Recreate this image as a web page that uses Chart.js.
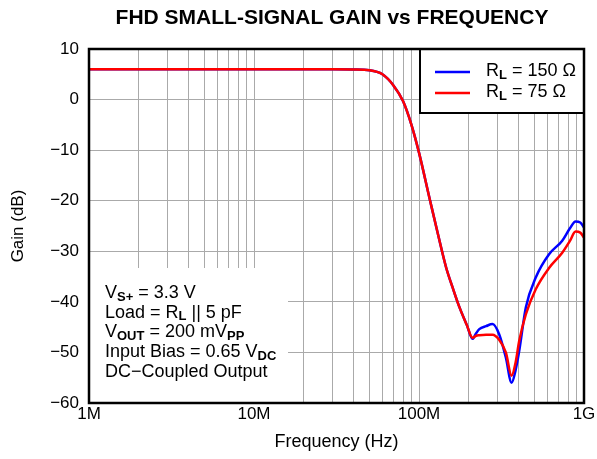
<!DOCTYPE html>
<html>
<head>
<meta charset="utf-8">
<script src="https://cdn.jsdelivr.net/npm/chart.js@4.4.1/dist/chart.umd.min.js"></script>
<style>
  html, body { margin: 0; padding: 0; background: #fff; }
  #wrap { width: 597px; height: 459px; }
</style>
</head>
<body>
<div id="wrap"><canvas id="gainChart" width="597" height="459"></canvas></div>
<script>
// frequency points in MHz (shared by both curves)
const freqMHz = [1, 2, 5, 10, 20, 30, 40, 50, 60, 70, 80, 90, 100, 116, 130, 146, 160, 176, 195, 211,
  222, 232, 255, 279, 306, 336, 364, 385, 405, 444, 510, 614, 738, 820, 889, 950, 1000];
// gain in dB, RL = 150 ohm
const gain150 = [6, 6, 6, 6, 6, 6, 5.95, 5.8, 5.0, 2.8, -0.3, -5, -10.5, -19.6, -26.5, -33.2, -37.2, -41.1, -44.6, -47.3,
  -46.2, -45.4, -44.8, -44.4, -46.4, -51, -56, -53.5, -49.7, -41.1, -35.2, -30.6, -27.9, -25.5, -24.1, -24.3, -25.3];
// gain in dB, RL = 75 ohm
const gain75 = [6, 6, 6, 6, 6, 6, 5.95, 5.8, 5.0, 2.8, -0.3, -5, -10.5, -19.6, -26.5, -33.2, -37.2, -41.1, -44.6, -47.1,
  -46.7, -46.6, -46.5, -46.5, -47.5, -50, -54.6, -52, -47.7, -42.5, -37.5, -33.3, -30.3, -28, -26.1, -26.3, -27.3];

const decadeValues = [1e6, 1e7, 1e8, 1e9];
const decadeLabels = ['1M', '10M', '100M', '1G'];
const legendNames = [['R', 'L', ' = 150 \u03A9'], ['R', 'L', ' = 75 \u03A9']];
const seriesColors = ['#0000ff', '#ff0000'];

const FONT = 'Liberation Sans, Arial, Helvetica, sans-serif';

function toPoints(vals) {
  return freqMHz.map((f, i) => ({ x: f * 1e6, y: vals[i] }));
}

// grid positions 1..9 x 10^n for the log axis
let gridFreqs = [];
for (let e = 6; e < 9; e++) {
  for (let m = 1; m < 10; m++) gridFreqs.push(m * Math.pow(10, e));
}
gridFreqs.push(1e9);

// draws text pieces, some of them as bold subscripts
function richText(ctx, x, y, parts) {
  let cx = x;
  parts.forEach((p) => {
    if (p.sub) {
      ctx.font = 'bold 13px ' + FONT;
      ctx.fillText(p.t, cx, y + 4);
    } else {
      ctx.font = '18px ' + FONT;
      ctx.fillText(p.t, cx, y);
    }
    cx += ctx.measureText(p.t).width;
  });
}

const notes = [
  [{ t: 'V' }, { t: 'S+', sub: true }, { t: ' = 3.3 V' }],
  [{ t: 'Load = R' }, { t: 'L', sub: true }, { t: ' || 5 pF' }],
  [{ t: 'V' }, { t: 'OUT', sub: true }, { t: ' = 200 mV' }, { t: 'PP', sub: true }],
  [{ t: 'Input Bias = 0.65 V' }, { t: 'DC', sub: true }],
  [{ t: 'DC\u2212Coupled Output' }]
];

const decorPlugin = {
  id: 'decor',
  beforeDatasetsDraw(chart) {
    const ctx = chart.ctx;
    const a = chart.chartArea;
    // white box under the notes
    ctx.save();
    ctx.fillStyle = '#fff';
    ctx.fillRect(a.left, 268, 288 - a.left, a.bottom - 268);
    ctx.restore();
  },
  afterDatasetsDraw(chart) {
    const ctx = chart.ctx;
    const a = chart.chartArea;
    ctx.save();
    // legend box
    const lx = 420, ly = a.top, lw = a.right - 420, lh = 64;
    ctx.fillStyle = '#fff';
    ctx.fillRect(lx, ly, lw, lh);
    ctx.strokeStyle = '#000';
    ctx.lineWidth = 2;
    ctx.strokeRect(lx, ly, lw, lh);
    ctx.fillStyle = '#000';
    ctx.textBaseline = 'middle';
    legendNames.forEach((n, i) => {
      const yy = 72 + i * 21;
      ctx.strokeStyle = seriesColors[i];
      ctx.lineWidth = 2.5;
      ctx.beginPath();
      ctx.moveTo(435, yy);
      ctx.lineTo(470, yy);
      ctx.stroke();
      richText(ctx, 486, yy - 1, [{ t: n[0] }, { t: n[1], sub: true }, { t: n[2] }]);
    });
    // notes
    notes.forEach((line, i) => {
      richText(ctx, 105, 293 + i * 19.7, line);
    });
    // frame
    ctx.strokeStyle = '#000';
    ctx.lineWidth = 2.5;
    ctx.strokeRect(a.left, a.top, a.right - a.left, a.bottom - a.top);
    // title
    ctx.font = 'bold 21px ' + FONT;
    ctx.textAlign = 'center';
    ctx.fillText('FHD SMALL-SIGNAL GAIN vs FREQUENCY', 332, 18);
    ctx.restore();
  }
};

const ctx = document.getElementById('gainChart');
const chart = new Chart(ctx, {
  type: 'line',
  data: {
    datasets: [
      {
        label: 'RL = 150',
        data: toPoints(gain150),
        borderColor: seriesColors[0],
        borderWidth: 2.5,
        pointRadius: 0,
        cubicInterpolationMode: 'monotone',
        order: 1
      },
      {
        label: 'RL = 75',
        data: toPoints(gain75),
        borderColor: seriesColors[1],
        borderWidth: 2.5,
        pointRadius: 0,
        cubicInterpolationMode: 'monotone',
        order: 0
      }
    ]
  },
  options: {
    responsive: false,
    animation: false,
    devicePixelRatio: 1,
    layout: { padding: { left: 0, top: 49, right: 13, bottom: 0 } },
    plugins: {
      legend: { display: false },
      tooltip: { enabled: false }
    },
    scales: {
      x: {
        type: 'logarithmic',
        min: 1e6,
        max: 1e9,
        afterBuildTicks: (axis) => { axis.ticks = gridFreqs.map((v) => ({ value: v })); },
        afterFit: (scale) => { scale.height = 56; },
        ticks: {
          autoSkip: false,
          maxRotation: 0,
          padding: 1,
          color: '#000',
          font: { family: FONT, size: 17 },
          callback: (v) => {
            const i = decadeValues.findIndex((d) => Math.abs(d - v) < d * 1e-6);
            return i >= 0 ? decadeLabels[i] : '';
          }
        },
        grid: { color: '#aaaaaa', lineWidth: 1, drawTicks: false },
        border: { display: false },
        title: {
          display: true,
          text: 'Frequency (Hz)',
          color: '#000',
          font: { family: FONT, size: 18 },
          padding: { top: 2, bottom: 6 }
        }
      },
      y: {
        min: -60,
        max: 10,
        afterFit: (scale) => { scale.width = 89; },
        ticks: {
          stepSize: 10,
          padding: 10,
          color: '#000',
          font: { family: FONT, size: 17 },
          callback: (v) => String(v).replace('-', '\u2212')
        },
        grid: { color: '#aaaaaa', lineWidth: 1, drawTicks: false },
        border: { display: false },
        title: {
          display: true,
          text: 'Gain (dB)',
          color: '#000',
          font: { family: FONT, size: 17 },
          padding: { top: 8, bottom: 0 }
        }
      }
    }
  },
  plugins: [decorPlugin]
});
</script>
</body>
</html>
